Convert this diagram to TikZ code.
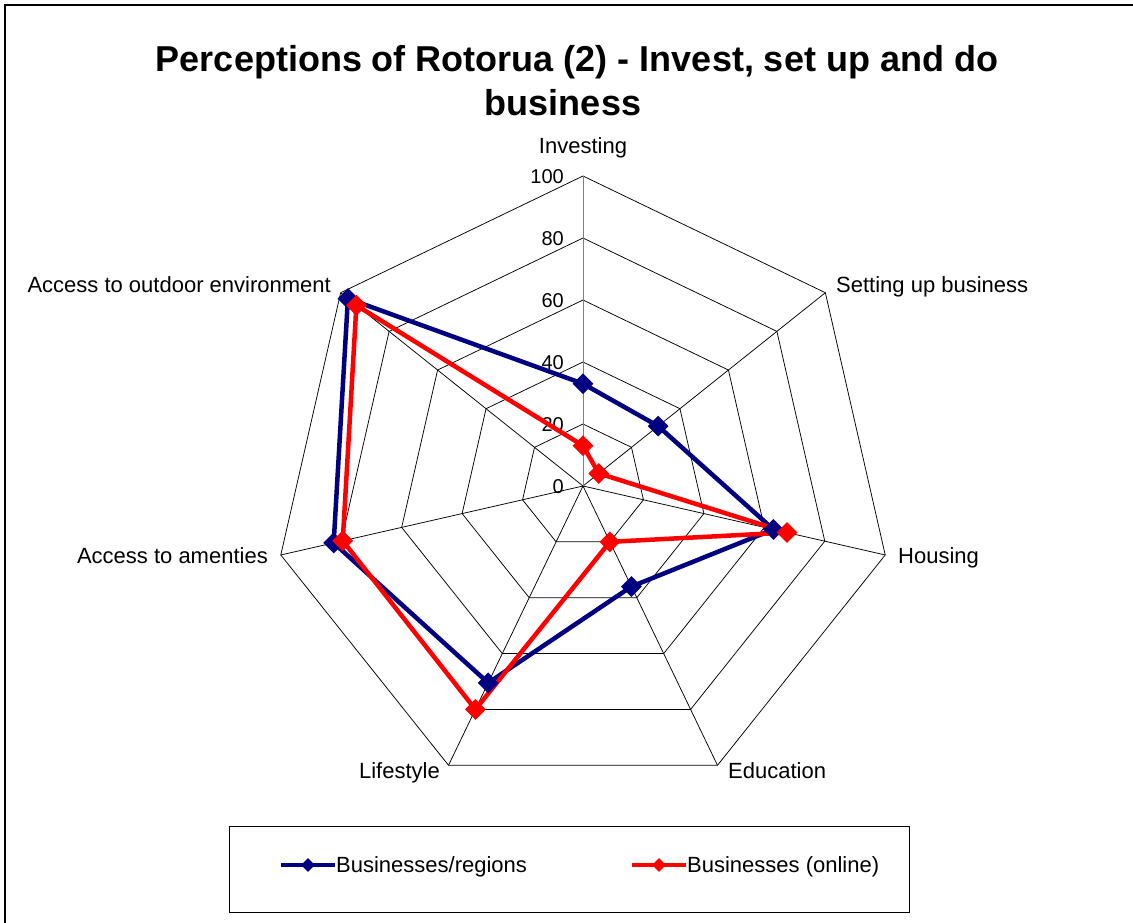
\documentclass[tikz,border=0pt]{standalone}
\usepackage{fontspec}
\setmainfont{Liberation Sans}
\usetikzlibrary{shapes.geometric}
\definecolor{navyc}{RGB}{0,0,128}
\definecolor{redc}{RGB}{255,0,0}
\begin{document}
\begin{tikzpicture}[x=1pt,y=-1pt,
  gridline/.style={black, line width=0.75pt},
  valaxis/.style={gray, line width=0.9pt},
  seriesb/.style={draw=navyc, line width=4.5pt, line join=round},
  seriesr/.style={draw=redc, line width=4.5pt, line join=round},
  mkb/.style={diamond, fill=navyc, inner sep=0pt, minimum width=21pt, minimum height=21pt},
  mkr/.style={diamond, fill=redc, inner sep=0pt, minimum width=21pt, minimum height=21pt},
  lgmkb/.style={diamond, fill=navyc, inner sep=0pt, minimum width=14pt, minimum height=14pt},
  lgmkr/.style={diamond, fill=redc, inner sep=0pt, minimum width=14pt, minimum height=14pt},
  catlabel/.style={font=\fontsize{22}{26}\selectfont, inner sep=0pt},
  ticklabel/.style={font=\fontsize{20}{24}\selectfont, inner sep=0pt, anchor=base east},
  titletext/.style={font=\fontsize{36}{42}\selectfont\bfseries, inner sep=0pt, anchor=base},
  legendtext/.style={font=\fontsize{22}{26}\selectfont, inner sep=0pt, anchor=base west}]
\useasboundingbox (0,0) rectangle (1133,923);
\fill[white] (0,0) rectangle (1133,923);
% outer frame
\draw[line width=2pt] (4.5,930) -- (4.5,5) -- (1140,5);
% title
\node[titletext] (t1) at (577,72) {Perceptions of Rotorua (2) - Invest, set up and do};
\node[titletext] (t2) at (563,116) {business};
% grid
\begin{scope}[shift={(583,486)}]
  \coordinate (O) at (0,0);
  \foreach \r in {1,...,5} {
    \draw[gridline] (-90:{\r*62})
      \foreach \k in {1,...,6} { -- ({\k*360/7-90}:{\r*62}) } -- cycle;
  }
  \foreach \k in {1,...,6} {
    \draw[gridline] (O) -- ({\k*360/7-90}:310);
  }
  \draw[valaxis] (O) -- (-90:310);
  % data points
  \foreach \v [count=\n from 0] in {33,31,63,36,70.5,82.5,97} {
    \coordinate (b\n) at ({\n*360/7-90}:{\v*3.1});
  }
  \foreach \v [count=\n from 0] in {13,6.5,67.5,20,80,79.5,93.5} {
    \coordinate (r\n) at ({\n*360/7-90}:{\v*3.1});
  }
\end{scope}
% tick labels
\node[ticklabel] (l0) at (564,493) {0};
\node[ticklabel] (l20) at (564,431) {20};
\node[ticklabel] (l40) at (564,369) {40};
\node[ticklabel] (l60) at (564,307) {60};
\node[ticklabel] (l80) at (564,245) {80};
\node[ticklabel] (l100) at (564,183) {100};
% category labels
\node[catlabel, anchor=base] (cInv) at (583,153.5) {Investing};
\node[catlabel, anchor=base west] (cSet) at (836,292) {Setting up business};
\node[catlabel, anchor=base west] (cHou) at (898,563.5) {Housing};
\node[catlabel, anchor=base west] (cEdu) at (728,778) {Education};
\node[catlabel, anchor=base east] (cLif) at (440,778) {Lifestyle};
\node[catlabel, anchor=base east] (cAme) at (268,563.5) {Access to amenties};
\node[catlabel, anchor=base east] (cOut) at (331,292) {Access to outdoor environment};
% series lines
\draw[seriesb] (b0) -- (b1) -- (b2) -- (b3) -- (b4) -- (b5) -- (b6) -- cycle;
\draw[seriesr] (r0) -- (r1) -- (r2) -- (r3) -- (r4) -- (r5) -- (r6) -- cycle;
% markers
\foreach \n in {0,...,6} { \node[mkb] (mb\n) at (b\n) {}; }
\foreach \n in {0,...,6} { \node[mkr] (mr\n) at (r\n) {}; }
% legend
\draw[line width=0.8pt] (229,826) rectangle (909,912);
\coordinate (lb1) at (281,865);
\coordinate (lb2) at (335,865);
\coordinate (lr1) at (632,865);
\coordinate (lr2) at (686,865);
\draw[seriesb, line width=4pt] (lb1) -- (lb2);
\node[lgmkb] (lgb) at (308,865) {};
\node[legendtext] (lgbt) at (336,872.5) {Businesses/regions};
\draw[seriesr, line width=4pt] (lr1) -- (lr2);
\node[lgmkr] (lgr) at (659,865) {};
\node[legendtext] (lgrt) at (687,872.5) {Businesses (online)};
\end{tikzpicture}
\end{document}
